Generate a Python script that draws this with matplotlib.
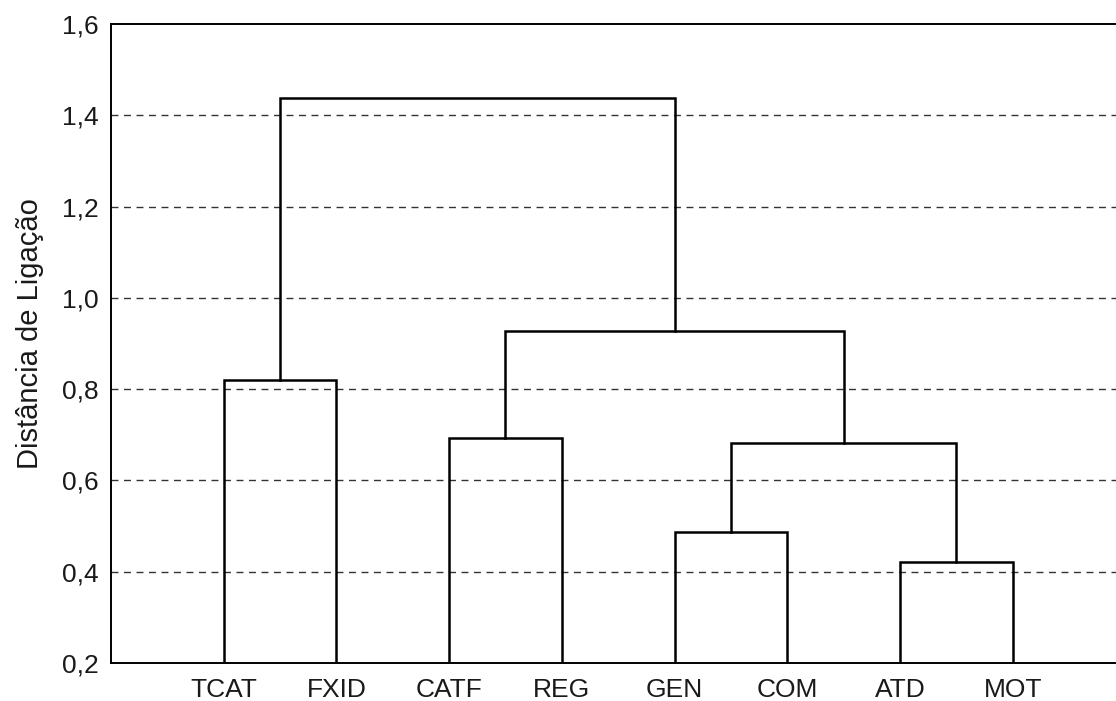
import matplotlib
matplotlib.use("Agg")
import matplotlib.pyplot as plt

plt.rcParams['font.family'] = ['Liberation Sans', 'DejaVu Sans']

## DATA ##
leaves = ["TCAT", "FXID", "CATF", "REG", "GEN", "COM", "ATD", "MOT"]
# merges: (left node, right node, height); nodes 0-7 are leaves, 8+ are clusters
merge_left = [0, 2, 4, 6, 10, 9, 8]
merge_right = [1, 3, 5, 7, 11, 12, 13]
merge_height = [0.82, 0.693, 0.488, 0.422, 0.682, 0.927, 1.437]
yticks = [0.2, 0.4, 0.6, 0.8, 1.0, 1.2, 1.4, 1.6]
ytick_labels = ["0,2", "0,4", "0,6", "0,8", "1,0", "1,2", "1,4", "1,6"]
ylabel = "Distância de Ligação"

y_base = 0.2

fig = plt.figure(figsize=(11.16, 7.01), dpi=100)
ax = fig.add_axes([0.0995, 0.0542, 0.9005, 0.9116])

# node positions: leaves at 1..n, clusters at mid of children
node_x = [i + 1 for i in range(len(leaves))]
node_y = [y_base] * len(leaves)
for l, r, h in zip(merge_left, merge_right, merge_height):
    xl, xr = node_x[l], node_x[r]
    ax.plot([xl, xl, xr, xr], [node_y[l], h, h, node_y[r]],
            color="black", lw=1.8, solid_joinstyle="miter", zorder=3)
    node_x.append((xl + xr) / 2)
    node_y.append(h)

# dashed gridlines
for yv in yticks[1:-1]:
    ax.axhline(yv, color="#333333", lw=1.0, ls=(0, (5, 4)), zorder=1)

ax.set_xlim(0, 8.917)
ax.set_ylim(0.2, 1.6)
ax.set_xticks(range(1, len(leaves) + 1))
ax.set_xticklabels(leaves, fontsize=19, color="#1a1a1a")
ax.set_yticks(yticks)
ax.set_yticklabels(ytick_labels, fontsize=19, color="#1a1a1a")
ax.tick_params(axis="both", length=0)
ax.tick_params(axis="x", pad=11)
ax.tick_params(axis="y", pad=9)
ax.set_ylabel(ylabel, fontsize=21, color="#1a1a1a")
ax.yaxis.set_label_coords(-0.067, 0.515)
for s in ["left", "bottom", "top"]:
    ax.spines[s].set_linewidth(1.4)
ax.spines["right"].set_visible(False)

fig.savefig("out.png", dpi=100)
